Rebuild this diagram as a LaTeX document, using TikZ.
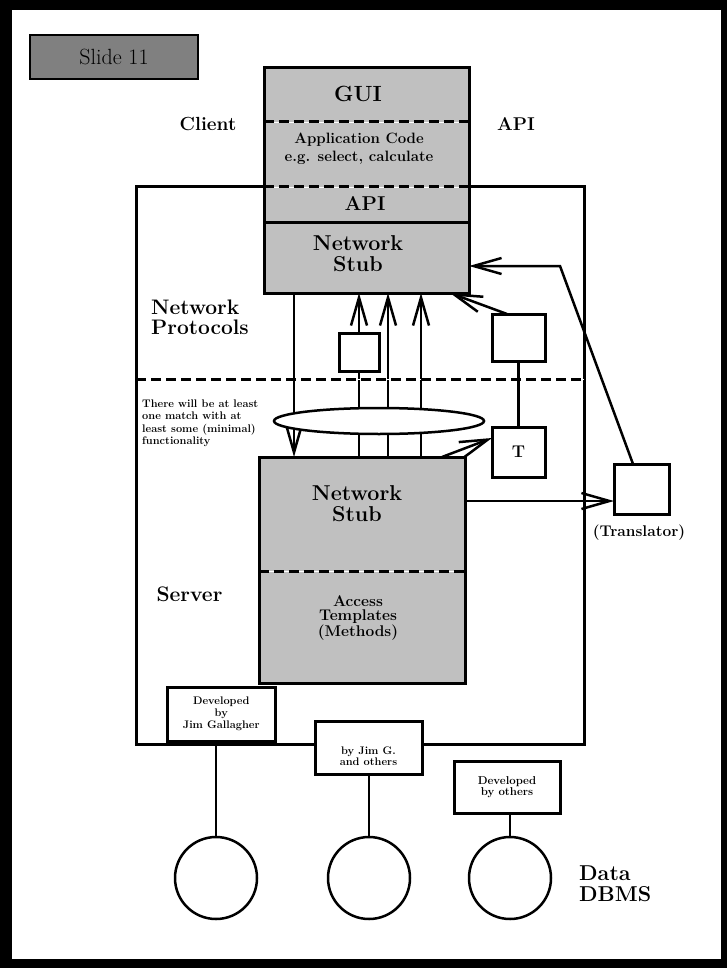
\documentclass[tikz,border=0pt]{standalone}
\usetikzlibrary{arrows.meta,shapes.geometric}
\definecolor{boxgray}{HTML}{C0C0C0}
\definecolor{slidegray}{HTML}{808080}
\newcommand\fsz[2]{\fontsize{#1pt}{#2pt}\selectfont}
\begin{document}
\begin{tikzpicture}[x=1pt,y=-1pt,
  conn/.style={line width=2.5pt},
  arr/.style={line width=2.5pt,-{Straight Barb[length=28pt,width=16pt]}},
  gfill/.style={fill=boxgray,inner sep=0pt,outer sep=0pt},
  wbox/.style={draw,fill=white,line width=3pt,inner sep=0pt,outer sep=0pt,align=center},
  dsep/.style={line width=3pt,dash pattern=on 10pt off 5pt,preaction={draw=white,solid}},
  lbl/.style={inner sep=0pt,align=center},
  dbcirc/.style={draw,circle,line width=2.5pt,minimum size=82pt,inner sep=0pt,outer sep=0pt},
]
\useasboundingbox (0,0) rectangle (727,968);
\fill[black] (0,0) rectangle (727,968);
\fill[white] (12,10) rectangle (721,959);

% slide label
\node[wbox,fill=slidegray,line width=2pt,minimum width=168pt,minimum height=44pt,font=\fsz{22}{24}] (slide) at (114,57) {Slide 11};

% server frame
\node[draw,line width=3pt,inner sep=0pt,outer sep=0pt,minimum width=448pt,minimum height=557pt] (srv) at (360,465.5) {};

% client stack
\node[gfill,minimum width=205pt,minimum height=54pt] (gui) at (366.5,95) {};
\node[gfill,minimum width=205pt,minimum height=65pt] (app) at (366.5,154.5) {};
\node[gfill,minimum width=205pt,minimum height=36pt] (api) at (366.5,205) {};
\node[gfill,minimum width=205pt,minimum height=70pt] (cstub) at (366.5,258) {};
\draw[dsep] (gui.south west) -- (gui.south east);
\draw[dsep] (app.south west) -- (app.south east);
\draw[line width=3pt] (api.south west) -- (api.south east);
\draw[line width=3pt] (gui.north west) rectangle (cstub.south east);

% server stack
\node[gfill,minimum width=206pt,minimum height=114pt] (sstub) at (362,514) {};
\node[gfill,minimum width=206pt,minimum height=112pt] (acc) at (362,627) {};
\draw[dsep] (sstub.south west) -- (sstub.south east);
\draw[line width=3pt] (sstub.north west) rectangle (acc.south east);

% small boxes
\node[wbox,minimum width=40pt,minimum height=38pt] (sb1) at (359,352) {};
\node[wbox,minimum width=53pt,minimum height=47pt] (sb2) at (518.5,337.5) {};
\node[wbox,minimum width=53pt,minimum height=50pt,font=\bfseries\fsz{17}{18}] (tbox) at (518.5,452) {T};
\node[wbox,minimum width=55pt,minimum height=50pt] (tr) at (641.5,489) {};

% connectors between the stubs
\coordinate (d1) at (294,293);
\coordinate (u2) at (388,457);
\coordinate (u3) at (421,457);
\coordinate (tstart) at (442,457);
\coordinate (turn) at (560,266);
\draw[arr] (d1) -- (d1 |- sstub.north);
\draw[conn] (sb1.south) -- (sb1.south |- sstub.north);
\draw[arr] (sb1.north) -- (sb1.north |- cstub.south);
\draw[arr] (u2) -- (u2 |- cstub.south);
\draw[arr] (u3) -- (u3 |- cstub.south);
\draw[arr] (tstart) -- ([yshift=-11pt]tbox.north west);
\draw[conn] (sb2.south) -- (tbox.north);
\draw[arr] ([xshift=15pt]sb2.north west) -- ([xshift=-19pt]cstub.south east);
\draw[arr] ([yshift=13pt]sstub.east) -- ([yshift=-12pt]tr.west);
\draw[arr] ([xshift=-8.5pt]tr.north) -- (turn) -- (turn -| cstub.east);

% ellipse
\node[draw,ellipse,fill=white,line width=2.5pt,inner sep=0pt,outer sep=0pt,minimum width=210pt,minimum height=26pt] (ell) at (379,421) {};

% dashed split line
\draw[dsep] ([yshift=-192pt]srv.north west) -- ([yshift=-192pt]srv.north east);

% developer boxes
\node[wbox,minimum width=107.5pt,minimum height=54pt,font=\bfseries\fsz{11}{12}] (dev1) at (221.25,714) {Developed\\by\\Jim Gallagher};
\node[wbox,minimum width=107pt,minimum height=53pt] (jg) at (368.5,747.5) {};
\node[wbox,minimum width=106pt,minimum height=52pt,font=\bfseries\fsz{11.4}{11}] (dev3) at (507,787) {Developed\\by others};

% databases
\node[dbcirc] (c1) at (216,878) {};
\node[dbcirc] (c2) at (369,878) {};
\node[dbcirc] (c3) at (510,878) {};
\draw[conn] (c1.north) -- (c1.north |- dev1.south);
\draw[conn] (c2.north) -- (c2.north |- jg.south);
\draw[conn] (c3.north) -- (c3.north |- dev3.south);

% texts
\node[lbl,font=\bfseries\fsz{19}{22}] (tclient) at (208,124) {Client};
\node[lbl,font=\bfseries\fsz{18.5}{22}] (tapiout) at (516,124) {API};
\node[lbl,font=\bfseries\fsz{22}{24}] (tgui) at (358,93.5) {GUI};
\node[lbl,font=\bfseries\fsz{15}{18}] (tapp) at (359,149) {Application Code\\e.g. select, calculate};
\node[lbl,font=\bfseries\fsz{20}{22}] (tapi) at (365,204) {API};
\node[lbl,font=\bfseries\fsz{21.5}{21}] (tcs) at (358,253.5) {Network\\Stub};
\node[lbl,align=left,anchor=west,font=\bfseries\fsz{21}{20}] (tnp) at (151,317) {Network\\Protocols};
\node[lbl,align=left,anchor=west,font=\bfseries\fsz{11}{12.5}] (tnote) at (142,423.5) {There will be at least\\one match with at\\least some (minimal)\\functionality};
\node[lbl,font=\bfseries\fsz{21.5}{21}] (tss) at (357,503.5) {Network\\Stub};
\node[lbl,font=\bfseries\fsz{15.5}{14}] (tacc) at (358,618) {Access\\Templates\\(Methods)};
\node[lbl,font=\bfseries\fsz{21}{24}] (tserver) at (189.5,594) {Server};
\node[lbl,font=\bfseries\fsz{15.5}{18}] (ttr) at (639,533) {(Translator)};
\node[lbl,font=\bfseries\fsz{11}{11}] (tjg) at (368.5,755.7) {by Jim G.\\and others};
\node[lbl,align=left,anchor=west,font=\bfseries\fsz{21.5}{21}] (tdata) at (579,883.5) {Data\\DBMS};
\end{tikzpicture}
\end{document}
